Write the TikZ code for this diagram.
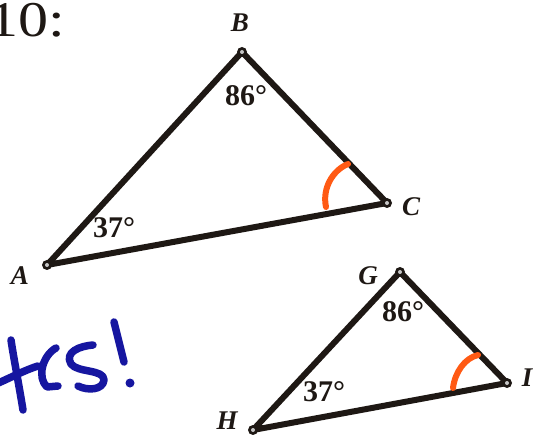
\documentclass[tikz,border=0pt]{standalone}
\usepackage{fontspec}
\setmainfont{Liberation Serif}
\definecolor{inkblack}{RGB}{30,24,20}
\definecolor{markorange}{RGB}{255,90,20}
\definecolor{penblue}{RGB}{22,22,160}
\tikzset{
  side/.style={draw=inkblack, line width=6pt, line join=round},
  vtx/.style={circle, fill=inkblack, inner sep=0pt, minimum size=10pt},
  vlabel/.style={font=\fontsize{27}{27}\selectfont\bfseries\itshape, text=inkblack, inner sep=0pt},
  deglabel/.style={font=\fontsize{30}{30}\selectfont\bfseries, text=inkblack, inner sep=0pt},
  anglemark/.style={draw=markorange, line width=6pt, line cap=round},
  pen/.style={draw=penblue, line width=7.5pt, line cap=round, line join=round}
}
\begin{document}
\begin{tikzpicture}[x=1pt,y=-1pt]
\useasboundingbox[fill=white] (0,0) rectangle (535,435);
% title
\node[anchor=base east, inner sep=0pt, font=\fontsize{50}{50}\selectfont, text=inkblack, xscale=1.2] (num) at (65,37) {10:};
% vertices
\coordinate (A) at (47,265);
\coordinate (B) at (242,52);
\coordinate (C) at (387,203);
\coordinate (G) at (400,272);
\coordinate (H) at (253,430);
\coordinate (I) at (507,383);
% triangles
\draw[side] (A) -- (B) -- (C) -- cycle;
\draw[side] (G) -- (H) -- (I) -- cycle;
\foreach \v in {A,B,C,G,H,I} {
  \node[vtx] (dot\v) at (\v) {};
  \fill[gray!45] (\v) circle (2pt);
}
% vertex labels
\node[vlabel] (lA) at (20,276) {A};
\node[vlabel] (lB) at (240,23) {B};
\node[vlabel] (lC) at (411,207) {C};
\node[vlabel] (lG) at (368,276) {G};
\node[vlabel] (lH) at (227,421) {H};
\node[vlabel] (lI) at (527,378) {I};
% angle labels
\node[deglabel] (a86) at (246,96) {86°};
\node[deglabel] (a37) at (114,228) {37°};
\node[deglabel] (b86) at (403,312) {86°};
\node[deglabel] (b37) at (324,392) {37°};
% orange angle marks
\coordinate (m1s) at (348,164);
\coordinate (m1e) at (326,207);
\draw[anglemark] (m1s) .. controls (333,170) and (322,188) .. (m1e);
\coordinate (m2s) at (478,355);
\coordinate (m2e) at (453,388);
\draw[anglemark] (m2s) .. controls (465,358) and (455,372) .. (m2e);
% handwriting "Yes!"
\draw[pen] (11,340) .. controls (14,360) and (19,385) .. (23,410);
\draw[pen] (-4,384) .. controls (10,378) and (25,370) .. (38,366);
\draw[pen] (56,348) .. controls (42,356) and (37,378) .. (47,387) -- (58,386);
\draw[pen] (93,345) .. controls (80,346) and (64,352) .. (71,364) .. controls (78,373) and (104,369) .. (104,380) .. controls (103,390) and (88,391) .. (78,386);
\draw[pen] (114,322) -- (124,362);
\fill[penblue] (130,383) circle (4.5pt);
\end{tikzpicture}
\end{document}
